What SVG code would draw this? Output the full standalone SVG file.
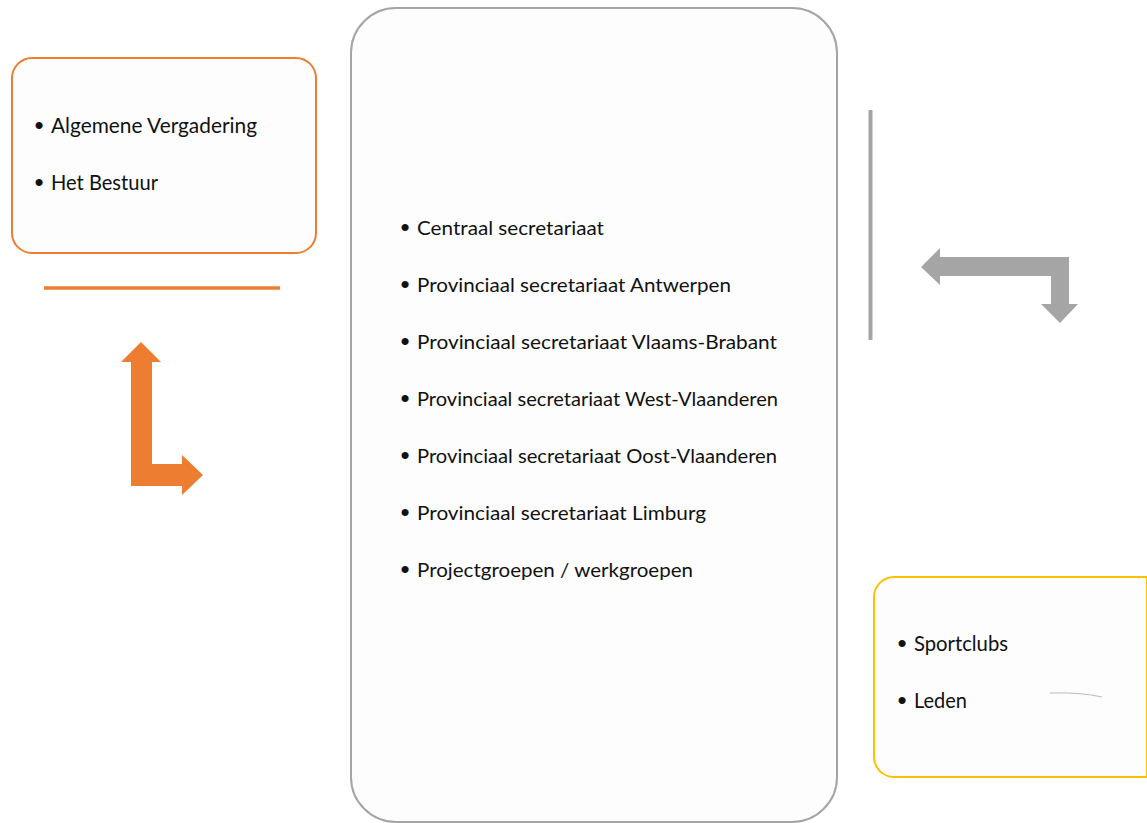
<svg xmlns="http://www.w3.org/2000/svg" width="1147" height="823" viewBox="0 0 1147 823">
<style>
.t{font-family:Lato,"Open Sans","Liberation Sans",sans-serif;fill:#111;}
.l{font-size:21px;}
.c{font-size:20px;}
.b{font-family:"Liberation Sans",sans-serif;fill:#111;font-size:26px;}
</style>
<rect width="1147" height="823" fill="#ffffff"/>
<g id="node-bestuur">
<rect x="12" y="58" width="304" height="195" rx="20" fill="#fdfdfd" stroke="#ED7D31" stroke-width="2"/>
<text class="b" x="34.5" y="134">•</text>
<text class="t l" x="51" y="133" textLength="206" lengthAdjust="spacingAndGlyphs">Algemene Vergadering</text>
<text class="b" x="34.5" y="191">•</text>
<text class="t l" x="51" y="190" textLength="107" lengthAdjust="spacingAndGlyphs">Het Bestuur</text>
</g>
<g id="node-secretariaat">
<rect x="351" y="8" width="486" height="814" rx="45" fill="#fdfdfd" stroke="#A5A5A5" stroke-width="2"/>
<text class="b" x="400.5" y="236">•</text>
<text class="t c" x="417" y="235" textLength="187" lengthAdjust="spacingAndGlyphs">Centraal secretariaat</text>
<text class="b" x="400.5" y="293">•</text>
<text class="t c" x="417" y="292" textLength="314" lengthAdjust="spacingAndGlyphs">Provinciaal secretariaat Antwerpen</text>
<text class="b" x="400.5" y="350">•</text>
<text class="t c" x="417" y="349" textLength="360" lengthAdjust="spacingAndGlyphs">Provinciaal secretariaat Vlaams-Brabant</text>
<text class="b" x="400.5" y="407">•</text>
<text class="t c" x="417" y="406" textLength="361" lengthAdjust="spacingAndGlyphs">Provinciaal secretariaat West-Vlaanderen</text>
<text class="b" x="400.5" y="464">•</text>
<text class="t c" x="417" y="463" textLength="360" lengthAdjust="spacingAndGlyphs">Provinciaal secretariaat Oost-Vlaanderen</text>
<text class="b" x="400.5" y="521">•</text>
<text class="t c" x="417" y="520" textLength="289" lengthAdjust="spacingAndGlyphs">Provinciaal secretariaat Limburg</text>
<text class="b" x="400.5" y="578">•</text>
<text class="t c" x="417" y="577" textLength="276" lengthAdjust="spacingAndGlyphs">Projectgroepen / werkgroepen</text>
</g>
<g id="node-leden">
<path d="M894,577 H1147 V777 H894 A20,20 0 0 1 874,757 V597 A20,20 0 0 1 894,577 Z" fill="#fdfdfd" stroke="#FFC000" stroke-width="2"/>
<text class="b" x="897.5" y="652">•</text>
<text class="t l" x="914" y="651" textLength="94" lengthAdjust="spacingAndGlyphs">Sportclubs</text>
<text class="b" x="897.5" y="709">•</text>
<text class="t l" x="914" y="708" textLength="53" lengthAdjust="spacingAndGlyphs">Leden</text>
<path d="M1050,693 Q1080,692 1102,697" fill="none" stroke="#bbbbbb" stroke-width="1"/>
</g>
<g id="connectors">
<line x1="44" y1="288" x2="280" y2="288" stroke="#ED7D31" stroke-width="3.5"/>
<path d="M141,342 L161,362 L152,362 L152,464 L182,464 L182,455 L203,475 L182,495 L182,486 L131,486 L131,362 L121,362 Z" fill="#ED7D31"/>
<line x1="870.5" y1="110" x2="870.5" y2="340" stroke="#A5A5A5" stroke-width="4"/>
<path d="M921,267 L940,248 L940,257 L1069,257 L1069,304 L1078,304 L1060,323 L1041,304 L1051,304 L1051,276 L940,276 L940,285 Z" fill="#A5A5A5"/>
</g>
</svg>
